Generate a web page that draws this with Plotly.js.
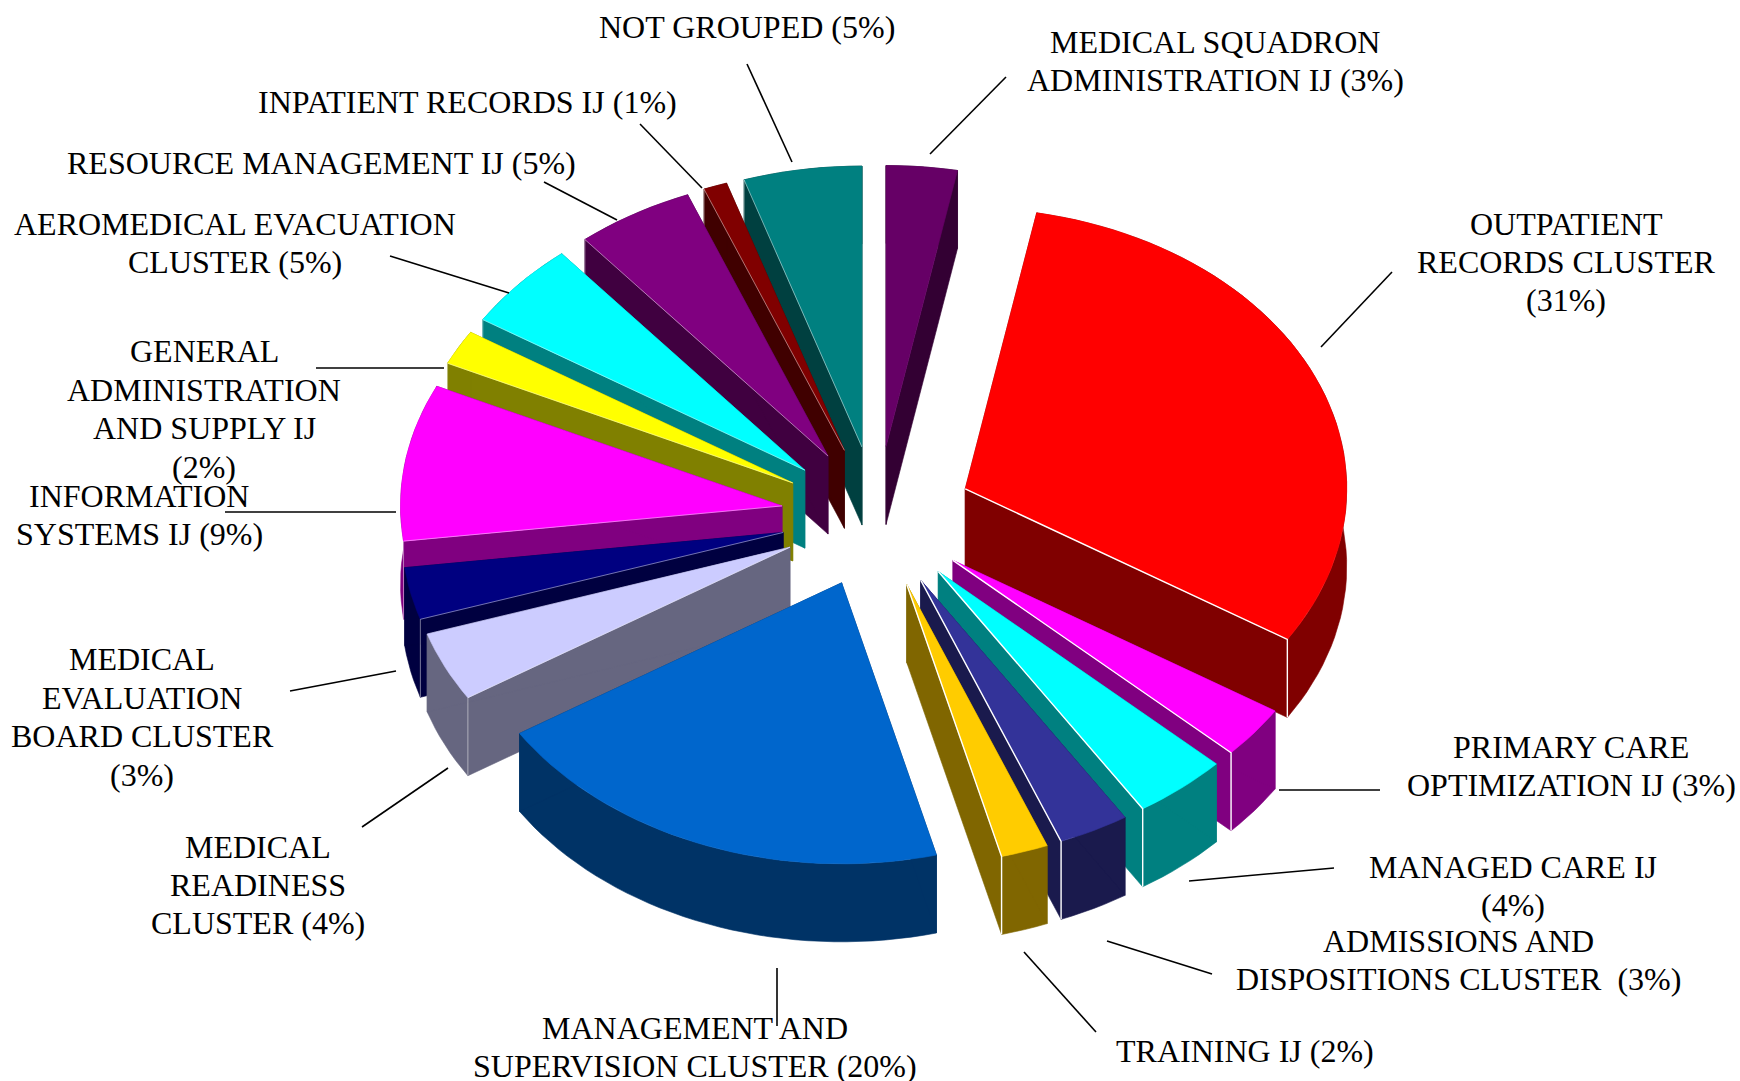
<!DOCTYPE html>
<html>
<head>
<meta charset="utf-8">
<script src="https://cdn.plot.ly/plotly-3.0.1.min.js"></script>
<style>html,body{margin:0;padding:0;background:#fff}</style>
</head>
<body>
<div id="chart" style="width:1740px;height:1081px"></div>
<script>
// ---- data (clockwise from 12 o'clock) ----
const categories = ["MEDICAL SQUADRON ADMINISTRATION IJ","OUTPATIENT RECORDS CLUSTER","PRIMARY CARE OPTIMIZATION IJ","MANAGED CARE IJ","ADMISSIONS AND DISPOSITIONS CLUSTER","TRAINING IJ","MANAGEMENT AND SUPERVISION CLUSTER","MEDICAL READINESS CLUSTER","MEDICAL EVALUATION BOARD CLUSTER","INFORMATION SYSTEMS IJ","GENERAL ADMINISTRATION AND SUPPLY IJ","AEROMEDICAL EVACUATION CLUSTER","RESOURCE MANAGEMENT IJ","INPATIENT RECORDS IJ","NOT GROUPED"];
const values = [3,31,3,4,3,2,20,4,3,9,2,5,5,1,5];
const topColors = ["#660066","#FF0000","#FF00FF","#00FFFF","#333399","#FFCC00","#0066CC","#CCCCFF","#000080","#FF00FF","#FFFF00","#00FFFF","#800080","#800000","#008080"];
const sideColors = ["#330033","#800000","#800080","#008080","#1A1A4D","#806600","#003366","#666680","#000040","#800080","#808000","#008080","#400040","#400000","#004040"];

// ---- labels (one entry per category) ----
const labelText = ["MEDICAL SQUADRON<br>ADMINISTRATION IJ (3%)","OUTPATIENT<br>RECORDS CLUSTER<br>(31%)","PRIMARY CARE<br>OPTIMIZATION IJ (3%)","MANAGED CARE IJ<br>(4%)","ADMISSIONS AND<br>DISPOSITIONS CLUSTER&#160; (3%)","TRAINING IJ (2%)","MANAGEMENT AND<br>SUPERVISION CLUSTER (20%)","MEDICAL<br>READINESS<br>CLUSTER (4%)","MEDICAL<br>EVALUATION<br>BOARD CLUSTER<br>(3%)","INFORMATION<br>SYSTEMS IJ (9%)","GENERAL<br>ADMINISTRATION<br>AND SUPPLY IJ<br>(2%)","AEROMEDICAL EVACUATION<br>CLUSTER (5%)","RESOURCE MANAGEMENT IJ (5%)","INPATIENT RECORDS IJ (1%)","NOT GROUPED (5%)"];
const labelX = [1215,1566,1571,1513,1458,1245,695,258,142,139,204,235,321,467,747];
const labelY = [61,262,766,886,960,1051,1047,885,717,515,409,243,163,102,27];
const leaderX0 = [930,1321,1279,1189,1107,1024,777,448,396,396,444,509,617,702,792];
const leaderY0 = [154,347,790,881,941,952,968,768,671,512,368,293,220,188,162];
const leaderX1 = [1006,1392,1380,1334,1212,1096,777,362,290,225,316,390,544,640,747];
const leaderY1 = [77,272,790,868,974,1032,1026,827,691,512,368,256,182,124,64];

// ---- pie geometry, in axis units ----
const CX = 877, CY = 517, RX = 381.5, RY = 281, PULL = 0.252, DEPTH = 78, STEP_DEG = 2, LINE_GAP = 38.4;

const total = values.reduce((a, b) => a + b, 0);
let running = 0;
const slices = values.map((v, i) => {
  const start = running / total * 2 * Math.PI;
  running += v;
  const end = running / total * 2 * Math.PI;
  return {i, start, end, mid: (start + end) / 2};
});

const traces = [];
function poly(xs, ys, color, name) {
  traces.push({type: "scatter", mode: "lines", x: xs.concat(xs[0]), y: ys.concat(ys[0]), fill: "toself",
    fillcolor: color, line: {color: color, width: 0.6}, hoverinfo: "text", text: name, showlegend: false});
}
function edge(xs, ys, color, width) {
  traces.push({type: "scatter", mode: "lines", x: xs, y: ys, line: {color: color, width: width},
    hoverinfo: "skip", showlegend: false});
}

// painter's order: far slices first, near slices last
slices.slice().sort((a, b) => Math.cos(b.mid) - Math.cos(a.mid)).forEach(s => {
  const ax = CX + Math.sin(s.mid) * RX * PULL;
  const ay = CY - Math.cos(s.mid) * RY * PULL;
  const n = Math.max(2, Math.ceil((s.end - s.start) * 180 / Math.PI / STEP_DEG));
  const rimX = [], rimY = [];
  for (let k = 0; k <= n; k++) {
    const t = s.start + (s.end - s.start) * k / n;
    rimX.push(ax + Math.sin(t) * RX);
    rimY.push(ay - Math.cos(t) * RY);
  }
  const name = categories[s.i] + ": " + values[s.i] + "%";
  const side = sideColors[s.i], top = topColors[s.i];
  const last = rimX.length - 1;

  // outer rim strip
  poly(rimX.concat(rimX.slice().reverse()),
       rimY.concat(rimY.slice().reverse().map(y => y + DEPTH)), side, name);
  // cut faces
  poly([ax, rimX[0], rimX[0], ax], [ay, rimY[0], rimY[0] + DEPTH, ay + DEPTH], side, name);
  poly([ax, rimX[last], rimX[last], ax], [ay, rimY[last], rimY[last] + DEPTH, ay + DEPTH], side, name);
  // top face
  poly([ax].concat(rimX), [ay].concat(rimY), top, name);

  // highlight on the visible cut face
  if (Math.sin(s.end) > 0 && Math.cos(s.end) < 0) {
    edge([ax, rimX[last], rimX[last]], [ay, rimY[last], rimY[last] + DEPTH], "#FFFFFF", 1.4);
  } else if (Math.sin(s.start) < 0) {
    edge([ax, rimX[0], rimX[0]], [ay, rimY[0], rimY[0] + DEPTH], "rgba(255,255,255,0.45)", 1);
  }
});

const annotations = [];
labelText.forEach((t, i) => {
  const lines = t.split("<br>");
  lines.forEach((line, k) => annotations.push({
    text: line, x: labelX[i], y: labelY[i] + (k - (lines.length - 1) / 2) * LINE_GAP,
    xref: "x", yref: "y", showarrow: false, xanchor: "center", yanchor: "middle", align: "center",
    font: {family: "Liberation Serif, Times New Roman, serif", size: 32, color: "#000"}
  }));
});
const shapes = leaderX0.map((x, i) => ({
  type: "line", xref: "x", yref: "y", x0: x, y0: leaderY0[i], x1: leaderX1[i], y1: leaderY1[i],
  line: {color: "#000", width: 1.6}
}));

Plotly.newPlot("chart", traces, {
  width: 1740, height: 1081, margin: {l: 0, r: 0, t: 0, b: 0},
  paper_bgcolor: "#fff", plot_bgcolor: "#fff", showlegend: false,
  xaxis: {range: [0, 1740], visible: false, fixedrange: true},
  yaxis: {range: [1081, 0], visible: false, fixedrange: true},
  annotations, shapes
}, {displayModeBar: false, responsive: false});
</script>
</body>
</html>
